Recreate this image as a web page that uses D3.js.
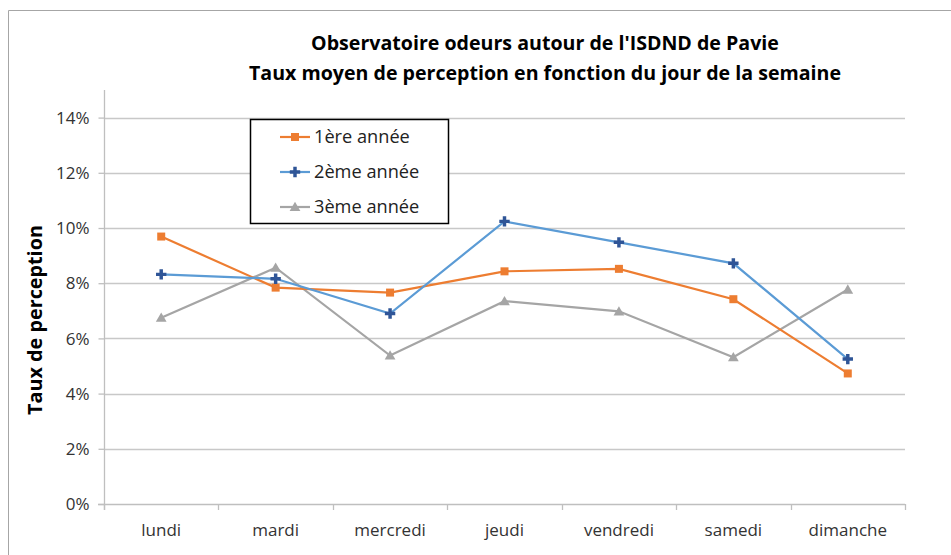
<!DOCTYPE html>
<html><head><meta charset="utf-8">
<script src="https://cdn.jsdelivr.net/npm/d3@7"></script>
<style>body{margin:0;background:#fff}svg{display:block}text{font-family:"Open Sans",sans-serif}</style>
</head><body><svg id="c" width="951" height="555"></svg>
<script>
const categories = ["lundi","mardi","mercredi","jeudi","vendredi","samedi","dimanche"];
const annee1 = [0.0969,0.0784,0.0766,0.0843,0.0852,0.0742,0.0473];
const annee2 = [0.0832,0.0816,0.0690,0.1024,0.0948,0.0872,0.0525];
const annee3 = [0.0675,0.0856,0.0538,0.0735,0.0698,0.0532,0.0777];
const seriesNames = ["1ère année","2ème année","3ème année"];
const yTicks = [0,0.02,0.04,0.06,0.08,0.10,0.12,0.14];
const titleLines = ["Observatoire odeurs autour de l'ISDND de Pavie","Taux moyen de perception en fonction du jour de la semaine"];
const yLabel = "Taux de perception";

const svg = d3.select("#c");
const L=104, R=905, T=90, B=504;
const x = d3.scaleBand().domain(categories).range([L,R]);
const y = d3.scaleLinear().domain([0,0.15]).range([B,T]);

// outer border
svg.append("path").attr("d","M8.5,555 V10.5 H951").attr("fill","none").attr("stroke","#A6A6A6").attr("stroke-width",1);

// gridlines
svg.append("g").selectAll("line").data(yTicks.slice(1)).join("line")
  .attr("x1",L).attr("x2",R).attr("y1",d=>Math.round(y(d))+0.5).attr("y2",d=>Math.round(y(d))+0.5)
  .attr("stroke","#C8C8C8").attr("stroke-width",1.3);

// y axis
const ya = svg.append("g").attr("transform",`translate(${L+0.5},0)`)
  .call(d3.axisLeft(y).tickValues(yTicks).tickFormat(d3.format(".0%")).tickSize(6).tickPadding(9));
ya.select(".domain").attr("d",`M0,${T}V${B+6}`).attr("stroke","#BFBFBF").attr("stroke-width",1.3);
ya.selectAll(".tick line").attr("stroke","#BFBFBF").attr("stroke-width",1.3);
ya.selectAll(".tick text").attr("font-size",17).attr("fill","#333").attr("font-family","'Open Sans',sans-serif").attr("dy","0.34em");

// x axis
const xa = svg.append("g").attr("transform",`translate(0,${B+0.5})`)
  .call(d3.axisBottom(x).tickSize(0).tickPadding(19));
xa.select(".domain").attr("d",`M${L-6},0H${R}`).attr("stroke","#BFBFBF").attr("stroke-width",1.3);
xa.selectAll(".tick text").attr("font-size",17).attr("fill","#333").attr("font-family","'Open Sans',sans-serif");
const bounds = categories.map(c=>x(c)).concat([R]);
svg.append("g").selectAll("line").data(bounds).join("line")
  .attr("x1",d=>Math.round(d)+0.5).attr("x2",d=>Math.round(d)+0.5).attr("y1",B).attr("y2",B+6)
  .attr("stroke","#BFBFBF").attr("stroke-width",1.3);

// series
const cx = c => x(c)+x.bandwidth()/2;
const colors = ["#ED7D31","#5B9BD5","#A5A5A5"];
const markerColors = ["#ED7D31","#2F5597","#A5A5A5"];
const data = [annee1,annee2,annee3];
const line = d3.line().x((d,i)=>cx(categories[i])).y(d=>y(d));
function marker(g,k,px,py){
  if(k===0){g.append("rect").attr("x",px-4).attr("y",py-4).attr("width",8).attr("height",8).attr("fill",markerColors[0]);}
  else if(k===1){g.append("path").attr("d",d3.symbol(d3.symbolCross,60)()).attr("transform",`translate(${px},${py})`).attr("fill",markerColors[1]);}
  else {g.append("path").attr("d",d3.symbol(d3.symbolTriangle,50)()).attr("transform",`translate(${px},${py+1})`).attr("fill",markerColors[2]);}
}
[2,0,1].forEach(k=>{
  const g = svg.append("g");
  g.append("path").datum(data[k]).attr("d",line).attr("fill","none").attr("stroke",colors[k]).attr("stroke-width",2.2);
  data[k].forEach((v,i)=>marker(g,k,cx(categories[i]),y(v)));
});

// title
svg.append("g").selectAll("text").data(titleLines).join("text")
  .attr("x",545).attr("y",(d,i)=>50+i*30).attr("text-anchor","middle")
  .attr("font-size",19.6).attr("font-weight","bold").attr("fill","#000").text(d=>d);

// y label
svg.append("text").attr("transform","translate(42,320) rotate(-90)").attr("text-anchor","middle")
  .attr("font-size",19.8).attr("font-weight","bold").attr("fill","#000").text(yLabel);

// legend
const lg = svg.append("g");
lg.append("rect").attr("x",250.5).attr("y",119.5).attr("width",198).attr("height",104)
  .attr("fill","#fff").attr("stroke","#000").attr("stroke-width",1.5);
seriesNames.forEach((n,k)=>{
  const yy = 137+k*35;
  lg.append("line").attr("x1",280).attr("x2",310).attr("y1",yy).attr("y2",yy).attr("stroke",colors[k]).attr("stroke-width",2.2);
  marker(lg,k,295,yy);
  lg.append("text").attr("x",314).attr("y",yy+6).attr("font-size",18.2).attr("fill","#222").text(n);
});
</script></body></html>
